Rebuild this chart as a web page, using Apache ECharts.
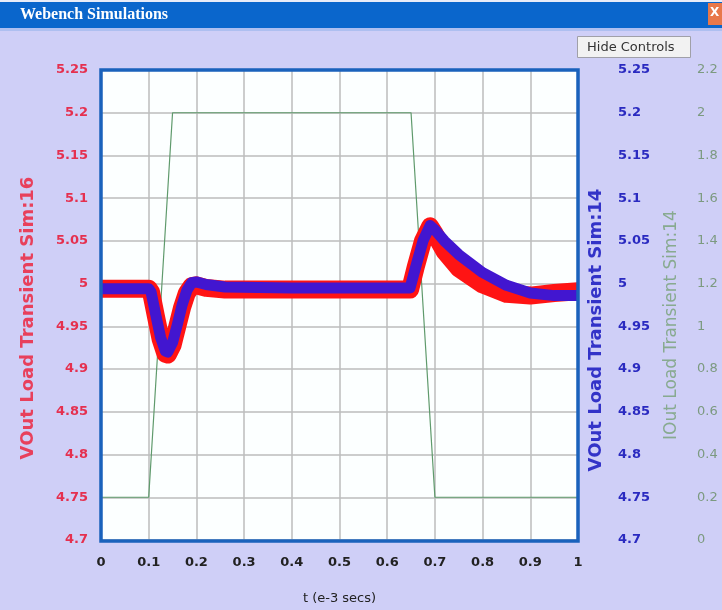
<!DOCTYPE html>
<html>
<head>
<meta charset="utf-8">
<script src="https://cdn.jsdelivr.net/npm/echarts@6/dist/echarts.min.js"></script>
<style>
html,body{margin:0;padding:0;background:#cfcff7;}
#chart{width:722px;height:610px;}
</style>
</head>
<body>
<div id="chart"></div>
<script>
// ---- data ----
const xTicks = ['0','0.1','0.2','0.3','0.4','0.5','0.6','0.7','0.8','0.9','1'];
const voutTicks = ['4.7','4.75','4.8','4.85','4.9','4.95','5','5.05','5.1','5.15','5.2','5.25'];
const ioutTicks = ['0','0.2','0.4','0.6','0.8','1','1.2','1.4','1.6','1.8','2','2.2'];

const tSim16    = [0, 0.05, 0.1, 0.105, 0.115, 0.125, 0.135, 0.14, 0.15, 0.16, 0.17, 0.18, 0.19, 0.2, 0.22, 0.26, 0.4, 0.55, 0.648, 0.66, 0.675, 0.69, 0.70, 0.72, 0.75, 0.8, 0.85, 0.9, 0.95, 1.0];
const voutSim16 = [4.994, 4.994, 4.994, 4.99, 4.962, 4.935, 4.918, 4.917, 4.928, 4.95, 4.972, 4.989, 4.997, 4.998, 4.995, 4.993, 4.993, 4.993, 4.993, 5.02, 5.05, 5.067, 5.058, 5.038, 5.018, 4.999, 4.988, 4.986, 4.989, 4.991];

const tSim14    = [0, 0.05, 0.1, 0.105, 0.115, 0.125, 0.135, 0.14, 0.15, 0.16, 0.17, 0.18, 0.19, 0.2, 0.22, 0.26, 0.4, 0.55, 0.648, 0.66, 0.675, 0.69, 0.70, 0.72, 0.75, 0.8, 0.85, 0.9, 0.95, 1.0];
const voutSim14 = [4.994, 4.994, 4.994, 4.99, 4.963, 4.937, 4.921, 4.92, 4.931, 4.952, 4.975, 4.992, 5.001, 5.002, 4.999, 4.996, 4.995, 4.995, 4.995, 5.02, 5.05, 5.068, 5.063, 5.05, 5.034, 5.013, 4.998, 4.989, 4.986, 4.986];

const tIout  = [0, 0.1, 0.15, 0.65, 0.7, 1.0];
const ioutSim14 = [0.2, 0.2, 2, 2, 0.2, 0.2];

function pairs(xs, ys){ return xs.map((x,i)=>[x, ys[i]]); }
function fmt(list){ return v => { const s = list.find(t => Math.abs(parseFloat(t) - v) < 1e-6); return s !== undefined ? s : ''; }; }

const chart = echarts.init(document.getElementById('chart'), null, {renderer:'canvas'});
const labelFont = {fontFamily:'DejaVu Sans', fontWeight:'bold', fontSize:13};

chart.setOption({
  backgroundColor:'#cfcff7',
  animation:false,
  grid:{left:101, right:144, top:70, bottom:69, show:true, backgroundColor:'#fcffff', borderWidth:0},
  xAxis:{
    type:'value', min:0, max:1, interval:0.1,
    axisLine:{show:false}, axisTick:{show:false},
    splitLine:{show:true, lineStyle:{color:'#bdbdbd', width:1.5}},
    axisLabel:Object.assign({color:'#222', margin:16, formatter:fmt(xTicks)}, labelFont),
    name:'t (e-3 secs)', nameLocation:'middle', nameGap:52,
    nameTextStyle:{color:'#222', fontFamily:'DejaVu Sans', fontSize:13}
  },
  yAxis:[
    {type:'value', min:4.7, max:5.25, interval:0.05, position:'left',
     axisLine:{show:false}, axisTick:{show:false},
     splitLine:{show:true, lineStyle:{color:'#bdbdbd', width:1.5}},
     axisLabel:Object.assign({color:'#e5304f', margin:13, formatter:fmt(voutTicks)}, labelFont)},
    {type:'value', min:4.7, max:5.25, interval:0.05, position:'right',
     axisLine:{show:false}, axisTick:{show:false}, splitLine:{show:false},
     axisLabel:Object.assign({color:'#2a2ac0', margin:40, formatter:fmt(voutTicks)}, labelFont)},
    {type:'value', min:0, max:2.2, interval:0.2, position:'right', offset:110,
     axisLabel:Object.assign({color:'#7c9a80', margin:9, formatter:fmt(ioutTicks)}, labelFont, {fontWeight:'normal'}),
     axisLine:{show:false}, axisTick:{show:false}, splitLine:{show:false}}
  ],
  graphic:[
    {type:'rect', left:0, top:0, shape:{width:722, height:2}, style:{fill:'#e8ecf8'}},
    {type:'rect', left:0, top:2, shape:{width:722, height:26}, style:{fill:'#0a66cc'}},
    {type:'rect', left:0, top:28, shape:{width:722, height:3}, style:{fill:'#aebff0'}},
    {type:'text', left:20, top:7, style:{text:'Webench Simulations', fill:'#fff', font:'bold 16px "Liberation Serif"'}},
    {type:'rect', left:708, top:3, shape:{width:14, height:22}, style:{fill:'#e8784a'}},
    {type:'text', left:710, top:7, style:{text:'X', fill:'#fff', font:'bold 12px "DejaVu Sans"'}},
    {type:'rect', left:577, top:36, shape:{width:113, height:21}, style:{fill:'#f2f2f2', stroke:'#a0a0a8', lineWidth:1}},
    {type:'text', left:587, top:41, style:{text:'Hide Controls', fill:'#333', font:'13px "DejaVu Sans"'}},
    {type:'rect', z:100, shape:{x:101, y:70, width:477, height:471}, style:{fill:null, stroke:'#1a62bc', lineWidth:3.5}},
    {type:'text', x:28, y:318, rotation:Math.PI/2, style:{text:'VOut Load Transient Sim:16', fill:'#e8405c', font:'bold 18px "DejaVu Sans"', align:'center', verticalAlign:'middle'}},
    {type:'text', x:596, y:330, rotation:Math.PI/2, style:{text:'VOut Load Transient Sim:14', fill:'#3333c8', font:'bold 18px "DejaVu Sans"', align:'center', verticalAlign:'middle'}},
    {type:'text', x:672, y:325, rotation:Math.PI/2, style:{text:'IOut Load Transient Sim:14', fill:'#88aa90', font:'17px "DejaVu Sans"', align:'center', verticalAlign:'middle'}}
  ],
  series:[
    {name:'VOut Load Transient Sim:16', type:'line', yAxisIndex:0, data:pairs(tSim16, voutSim16), showSymbol:false, clip:true,
     lineStyle:{color:'#ff1414', width:18, cap:'butt', join:'round'}, z:3},
    {name:'VOut Load Transient Sim:14', type:'line', yAxisIndex:1, data:pairs(tSim14, voutSim14), showSymbol:false, clip:true,
     lineStyle:{color:'#4216d0', width:11, cap:'butt', join:'round'}, z:4},
    {name:'IOut Load Transient Sim:14', type:'line', yAxisIndex:2, data:pairs(tIout, ioutSim14), showSymbol:false,
     lineStyle:{color:'#5f9a6c', width:1.2}, z:2}
  ]
});
</script>
</body>
</html>
